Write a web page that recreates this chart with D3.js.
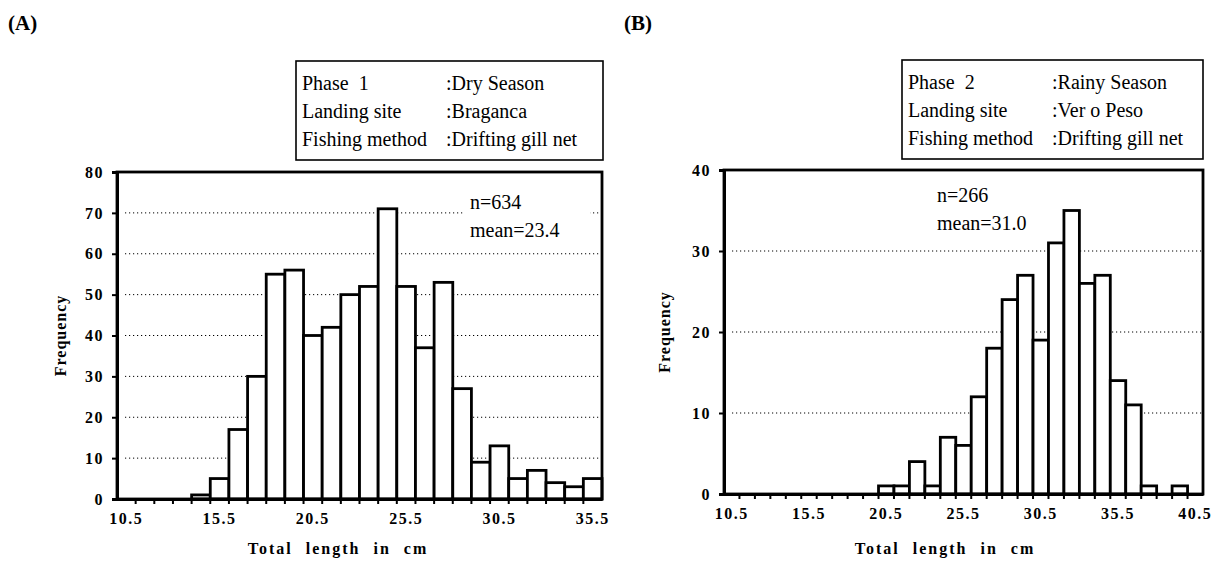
<!DOCTYPE html>
<html>
<head>
<meta charset="utf-8">
<script src="https://cdn.jsdelivr.net/npm/d3@7"></script>
<style>
  html, body { margin: 0; padding: 0; background: #fff; }
  svg { display: block; }
  text { font-family: "Liberation Serif", "Times New Roman", serif; fill: #000; }
</style>
</head>
<body>
<svg id="chart" width="1222" height="571"></svg>
<script>
// Length classes (cm) and catch counts per class
const classesA = ["10.5","11.5","12.5","13.5","14.5","15.5","16.5","17.5","18.5","19.5","20.5","21.5","22.5",
                  "23.5","24.5","25.5","26.5","27.5","28.5","29.5","30.5","31.5","32.5","33.5","34.5","35.5"];
const freqA = [0,0,0,0,1,5,17,30,55,56,40,42,50,52,71,52,37,53,27,9,13,5,7,4,3,5];

const classesB = ["10.5","11.5","12.5","13.5","14.5","15.5","16.5","17.5","18.5","19.5","20.5","21.5","22.5",
                  "23.5","24.5","25.5","26.5","27.5","28.5","29.5","30.5","31.5","32.5","33.5","34.5","35.5",
                  "36.5","37.5","38.5","39.5","40.5"];
const freqB = [0,0,0,0,0,0,0,0,0,0,1,1,4,1,7,6,12,18,24,27,19,31,35,26,27,14,11,1,0,1,0];

const labelsA = ["10.5","15.5","20.5","25.5","30.5","35.5"];
const labelsB = ["10.5","15.5","20.5","25.5","30.5","35.5","40.5"];
const yTicksA = [0,10,20,30,40,50,60,70,80];
const yTicksB = [0,10,20,30,40];

const infoA = [["Phase  1", ":Dry Season"], ["Landing site", ":Braganca"], ["Fishing method", ":Drifting gill net"]];
const infoB = [["Phase  2", ":Rainy Season"], ["Landing site", ":Ver o Peso"], ["Fishing method", ":Drifting gill net"]];
const statsA = ["n=634", "mean=23.4"];
const statsB = ["n=266", "mean=31.0"];

const svg = d3.select("#chart");
svg.append("rect").attr("width", 1222).attr("height", 571).attr("fill", "#fff");

function panel(opt) {
  const g = svg.append("g");
  const x = d3.scaleBand().domain(opt.classes).range([opt.left, opt.right]).padding(0);
  const y = d3.scaleLinear().domain([0, opt.ymax]).range([opt.bottom, opt.top]);

  // panel letter
  g.append("text").attr("x", opt.tagX).attr("y", 30)
    .attr("font-size", 21).attr("font-weight", "bold").text(opt.tag);

  // dotted gridlines
  g.append("g").selectAll("line").data(opt.yTicks.filter(v => v > 0 && v < opt.ymax)).join("line")
    .attr("x1", opt.left + 8).attr("x2", opt.right)
    .attr("y1", d => y(d)).attr("y2", d => y(d))
    .attr("stroke", "#000").attr("stroke-width", 1).attr("stroke-dasharray", "1.2,2.8");

  // white box behind the summary statistics
  g.append("rect").attr("x", opt.statX - 6).attr("y", opt.statY - 22)
    .attr("width", 126).attr("height", 56).attr("fill", "#fff");
  g.append("g").selectAll("text").data(opt.stats).join("text")
    .attr("x", opt.statX).attr("y", (d, i) => opt.statY + i * 28)
    .attr("font-size", 20).text(d => d);

  // histogram bars
  g.append("g").selectAll("rect").data(opt.freq.map((v, i) => ({ c: opt.classes[i], v })).filter(d => d.v > 0))
    .join("rect")
    .attr("x", d => x(d.c)).attr("width", x.bandwidth())
    .attr("y", d => y(d.v)).attr("height", d => y(0) - y(d.v))
    .attr("fill", "#fff").attr("stroke", "#000").attr("stroke-width", 2.8);

  // plot frame
  g.append("rect").attr("x", opt.left).attr("y", opt.top)
    .attr("width", opt.right - opt.left).attr("height", opt.bottom - opt.top)
    .attr("fill", "none").attr("stroke", "#000").attr("stroke-width", 2.8);

  // y axis
  const ya = g.append("g").attr("transform", `translate(${opt.left},0)`)
    .call(d3.axisLeft(y).tickValues(opt.yTicks).tickSize(5).tickPadding(8).tickFormat(d3.format("d")));
  ya.select(".domain").attr("stroke-width", 3);
  ya.selectAll(".tick line").attr("stroke-width", 2);
  ya.selectAll(".tick text").attr("font-family", "Liberation Serif").attr("font-size", 16)
    .attr("font-weight", "bold").attr("letter-spacing", 1.5);

  // x axis: labels centred on classes, ticks on class boundaries
  const xa = g.append("g").attr("transform", `translate(0,${opt.bottom})`)
    .call(d3.axisBottom(x).tickValues(opt.labels).tickSize(0).tickPadding(14));
  xa.select(".domain").attr("stroke-width", 3);
  xa.selectAll(".tick text").attr("font-family", "Liberation Serif").attr("font-size", 16)
    .attr("font-weight", "bold").attr("letter-spacing", 1.5);
  g.append("g").selectAll("line").data(opt.classes.slice(1)).join("line")
    .attr("x1", d => x(d)).attr("x2", d => x(d))
    .attr("y1", opt.bottom).attr("y2", opt.bottom + 5)
    .attr("stroke", "#000").attr("stroke-width", 2);

  // axis titles
  g.append("text").attr("transform", `translate(${opt.yTitleX},${(opt.top + opt.bottom) / 2}) rotate(-90)`)
    .attr("text-anchor", "middle").attr("font-size", 16).attr("font-weight", "bold")
    .attr("letter-spacing", 1).text("Frequency");
  g.append("text").attr("x", opt.xTitleX).attr("y", 554)
    .attr("text-anchor", "middle").attr("font-size", 16).attr("font-weight", "bold")
    .attr("letter-spacing", 2).attr("word-spacing", 7).text("Total length in cm");

  // sampling information box
  const lg = g.append("g").attr("transform", `translate(${opt.boxX},${opt.boxY})`);
  lg.append("rect").attr("width", opt.boxW).attr("height", 99)
    .attr("fill", "#fff").attr("stroke", "#000").attr("stroke-width", 1.6);
  opt.info.forEach((row, i) => {
    lg.append("text").attr("x", 6).attr("y", 29 + i * 28).attr("font-size", 20)
      .style("white-space", "pre").text(row[0]);
    lg.append("text").attr("x", 150).attr("y", 29 + i * 28).attr("font-size", 20).text(row[1]);
  });
}

panel({ tag: "(A)", tagX: 8, classes: classesA, freq: freqA, labels: labelsA, yTicks: yTicksA, ymax: 80,
        left: 117, right: 602, top: 172, bottom: 499, yTitleX: 66, xTitleX: 338,
        stats: statsA, statX: 470, statY: 209, info: infoA, boxX: 296, boxY: 61, boxW: 307 });
panel({ tag: "(B)", tagX: 624, classes: classesB, freq: freqB, labels: labelsB, yTicks: yTicksB, ymax: 40,
        left: 724, right: 1203, top: 170, bottom: 494, yTitleX: 670, xTitleX: 945,
        stats: statsB, statX: 937, statY: 202, info: infoB, boxX: 902, boxY: 60, boxW: 301 });
</script>
</body>
</html>
